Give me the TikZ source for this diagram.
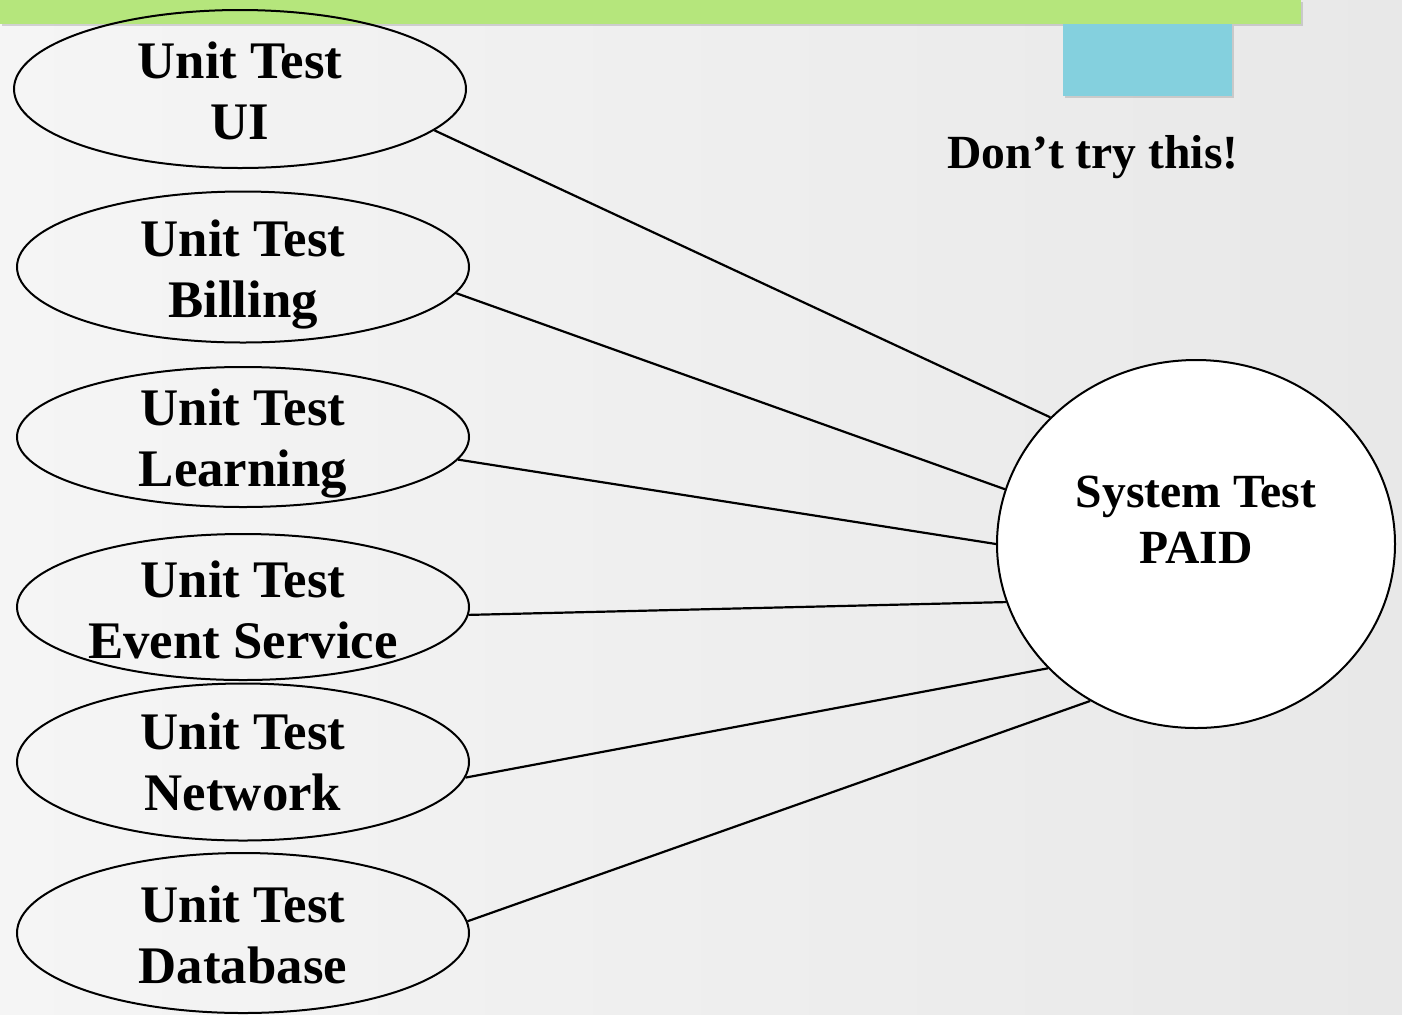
\documentclass[tikz,border=0pt]{standalone}
\usepackage{fontspec}
\setmainfont{Liberation Serif}
\usepackage{xcolor}
\usepackage{tikz}
\usetikzlibrary{shapes.geometric,shadows}

\definecolor{bargreen}{HTML}{B5E67C}
\definecolor{tabblue}{HTML}{84D0DE}
\definecolor{bgleft}{HTML}{F5F5F5}
\definecolor{bgright}{HTML}{E8E8E8}

\tikzset{
  unit/.style={ellipse, draw, line width=1pt, minimum width=226pt, inner sep=0pt},
  utext/.style={font=\fontsize{26.4}{30.5}\selectfont\bfseries, align=center},
  stext/.style={font=\fontsize{23.8}{28}\selectfont\bfseries, align=center},
  link/.style={line width=1.1pt}
}

\begin{document}
\begin{tikzpicture}[x=0.5pt,y=-0.5pt]
\useasboundingbox (0,0) rectangle (1402,1014);
\shade[left color=bgleft, right color=bgright] (0,0) rectangle (1402,1014);
\fill[bargreen, drop shadow={shadow xshift=0.8pt, shadow yshift=-0.8pt, opacity=0.3}] (0,0) rectangle (1301,24);
\fill[tabblue, drop shadow={shadow xshift=0.8pt, shadow yshift=-0.8pt, opacity=0.3}] (1063,24) rectangle (1232,96);
\node[stext] (warn) at (1093,157) {Don’t try this!};
\node[unit, minimum height=79pt, label={[utext, yshift=-1pt]center:{Unit Test\\UI}}] (ui) at (240,89) {};
\node[unit, minimum height=75.5pt, label={[utext, yshift=-3.5pt]center:{Unit Test\\Billing}}] (billing) at (243,267) {};
\node[unit, minimum height=70pt, label={[utext, yshift=-3pt]center:{Unit Test\\Learning}}] (learning) at (243,437) {};
\node[unit, minimum height=73pt, label={[utext, yshift=-1.5pt]center:{Unit Test\\Event Service}}] (event) at (243,607) {};
\node[unit, minimum height=78.5pt, label={[utext]center:{Unit Test\\Network}}] (network) at (243,762) {};
\node[unit, minimum height=80pt, label={[utext, yshift=-1pt]center:{Unit Test\\Database}}] (database) at (243,933) {};
\node[unit, fill=white, minimum width=199pt, minimum height=184pt, label={[stext, yshift=12pt]center:{System Test\\PAID}}] (paid) at (1196,544) {};
\draw[link] (ui.-12.8) -- (paid.139.6);
\draw[link] (billing.-7.8) -- (paid.164);
\draw[link] (learning.-6.3) -- (paid.180);
\draw[link] (event.-2.3) -- (paid.197);
\draw[link] (network.-4.3) -- (paid.220);
\draw[link] (database.3.5) -- (paid.236);
\end{tikzpicture}
\end{document}
